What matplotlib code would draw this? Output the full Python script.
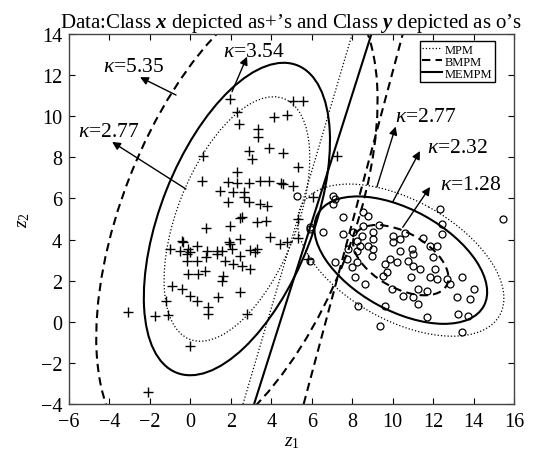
import numpy as np
import matplotlib
matplotlib.use('Agg')
import matplotlib.pyplot as plt
from matplotlib.patches import Ellipse
from matplotlib.lines import Line2D

plt.rcParams['font.family'] = ['Liberation Serif', 'DejaVu Serif']
plt.rcParams['mathtext.fontset'] = 'custom'
plt.rcParams['mathtext.rm'] = 'Liberation Serif'
plt.rcParams['mathtext.it'] = 'Liberation Serif:italic'
plt.rcParams['mathtext.bf'] = 'Liberation Serif:bold:italic'

# class x samples ('+')
x1 = [1.96, 2.3, 2.4, 3.34, 3.34, 4.13, 4.78, 0.62, 2.9, 3.05, 3.9, 4.6, 0.57, 2.3, 1.86,
      2.3, 2.9, 3.44, 3.89, 4.5, 1.46, 2.1, 2.65, 1.86, 2.65, 2.9, 3.44, 3.79, 2.45, 2.55,
      3.29, 3.74, 0.77, 1.96, 2.45, 1.9, 4.78, -0.41, -1.0, -0.5, -0.1, 0.33, 0.82, 1.3,
      1.56, 2.06, 2.95, 5.07, 5.57, 5.32, 7.25, 4.58, 5.07, 6.06, 5.32, 5.32, 5.81, 4.43,
      3.94, 3.29, 2.45, 2.45, 2.8, -0.36, 0.0, -0.17, -0.17, 0.33, 0.77, 1.3, 1.96, -0.12,
      0.38, 0.72, 1.7, 2.1, 2.55, 2.95, 3.2, 1.56, 1.6, -0.9, -0.41, 0.0, 0.33, 1.37, -1.2,
      0.87, 0.87, -3.1, -1.75, -1.1, 0.0, -2.1]
x2 = [10.84, 10.2, 9.6, 9.38, 9.0, 9.96, 10.06, 8.07, 8.3, 7.9, 8.45, 8.2, 6.85, 7.29, 6.8,
      6.75, 6.75, 6.85, 6.85, 6.75, 6.36, 6.3, 6.3, 5.83, 6.07, 5.83, 5.73, 5.64, 5.05, 5.12,
      4.86, 4.9, 4.56, 4.66, 4.03, 3.88, 3.88, 3.93, 3.54, 3.45, 3.54, 3.69, 3.45, 3.45,
      3.45, 3.54, 3.5, 10.74, 10.74, 7.53, 8.07, 6.7, 6.6, 6.07, 5.0, 4.08, 3.05, 3.78,
      4.13, 3.54, 3.2, 1.45, 0.38, 3.88, 3.4, 3.3, 2.96, 2.96, 3.15, 3.3, 3.8, 2.33,
      2.33, 2.47, 2.96, 2.81, 2.72, 2.57, 3.4, 1.99, 2.23, 1.74, 1.6, 1.26, 1.0, 1.2, 1.0,
      0.72, 0.38, 0.48, 0.29, 0.33, -1.2, -3.4]

# class y samples ('o')
y1 = [7.55, 8.53, 8.78, 6.56, 5.9, 5.91, 7.15, 7.55, 8.04, 8.24, 8.48, 8.78, 9.03, 8.98,
      7.8, 8.24, 8.4, 7.74, 8.24, 7.99, 8.14, 8.63, 8.29, 9.37, 9.62, 9.5, 9.87, 10.2, 9.62,
      10.36, 10.95, 11.0, 10.76, 11.0, 11.35, 12.0, 12.2, 12.1, 11.85, 12.2, 12.7, 12.85,
      9.97, 10.5, 11.0, 11.25, 11.7, 11.25, 11.7, 13.43, 14.0, 13.8, 13.2, 13.25, 13.7,
      13.43, 12.34, 12.44, 12.44, 11.85, 10.0, 10.36, 10.0, 9.03, 9.03, 7.15, 15.45, 8.53,
      5.27, 7.05, 7.05, 5.91, 9.3, 10.6, 11.5, 9.7, 10.9]
y2 = [5.1, 5.34, 5.15, 4.37, 4.6, 2.96, 2.9, 4.27, 4.37, 3.93, 4.18, 3.69, 3.54, 3.2,
      3.54, 3.45, 3.69, 3.05, 2.9, 2.67, 2.18, 1.84, 0.77, -0.2, 0.77, 2.23, 3.05, 2.9, 2.81,
      3.45, 3.54, 3.3, 2.96, 2.72, 2.57, 3.15, 3.69, 2.57, 2.18, 2.08, 2.08, 1.84,
      1.6, 1.26, 1.2, 1.6, 1.5, 0.87, 0.24, 2.18, 1.6, 1.1, 1.2, 0.38, 0.29,
      -0.5, 5.49, 4.76, 4.27, 3.69, 4.18, 4.03, 3.88, 4.03, 4.37, 5.97, 5.0, 4.66,
      6.12, 6.12, 5.75, 4.51, 4.7, 4.3, 4.1, 2.4, 2.2]

# fitted means / covariances of the two classes
mu_x = [2.3, 5.0]
cov_x = [[1.69, 1.40], [1.40, 4.61]]
mu_y = [10.4, 3.0]
cov_y = [[3.39, -1.23], [-1.23, 1.785]]

methods = ['MPM', 'BMPM', 'MEMPM']
styles = [':', '--', '-']
kappa_x = [2.77, 5.35, 3.54]
kappa_y = [2.77, 1.28, 2.32]
# decision boundaries: z1 where each line meets z2=-4 and z2=14
line_z2 = [-4, 14]
line_lo = [2.6, 5.6, 3.15]
line_hi = [8.0, 10.5, 8.95]

# kappa labels: text position, arrow tail (on ellipse), arrow head
lab_txt = ['5.35', '3.54', '2.77', '2.77', '2.32', '1.28']
lab_pos = [(-4.3, 12.44), (1.6, 13.17), (-5.55, 9.28), (10.1, 10.0), (11.7, 8.5), (12.34, 6.7)]
lab_tail = [(-0.71, 11.03), (2.06, 11.2), (-0.22, 6.46), (9.22, 6.56), (10.0, 5.83), (10.5, 4.6)]
lab_head = [(-2.49, 11.9), (2.8, 12.9), (-3.87, 8.75), (10.15, 9.5), (11.35, 8.31), (11.85, 6.56)]


def line_kw(ls):
    if ls == ':':
        return dict(lw=0.9, ls=':')
    if ls == '--':
        return dict(lw=1.5, ls=(0, (4, 2.5)))
    return dict(lw=1.5, ls='-')


def cov_ellipse(mu, cov, k, ls):
    vals, vecs = np.linalg.eigh(np.array(cov))
    ang = np.degrees(np.arctan2(vecs[1, 1], vecs[0, 1]))
    e = Ellipse(mu, 2 * k * np.sqrt(vals[1]), 2 * k * np.sqrt(vals[0]), angle=ang,
                fill=False, ec='k', **line_kw(ls))
    return e


fig = plt.figure(figsize=(5.33, 4.56), dpi=100)
ax = fig.add_axes([0.1295, 0.1118, 0.8349, 0.8114])

ax.plot(x1, x2, '+', color='k', ms=7, mew=1.0)
ax.plot(y1, y2, 'o', mfc='none', mec='k', ms=5, mew=0.9)

for i in range(3):
    ax.add_patch(cov_ellipse(mu_x, cov_x, kappa_x[i], styles[i]))
    ax.add_patch(cov_ellipse(mu_y, cov_y, kappa_y[i], styles[i]))
    ax.plot([line_lo[i], line_hi[i]], line_z2, color='k', **line_kw(styles[i]))

for t, p, a, b in zip(lab_txt, lab_pos, lab_tail, lab_head):
    ax.annotate('', xy=b, xytext=a,
                arrowprops=dict(arrowstyle='-|>', color='k', lw=1.0, mutation_scale=12,
                                shrinkA=0, shrinkB=0))
    ax.text(p[0], p[1], r'$\kappa$=' + t, fontsize=15.5, ha='left', va='center')

ax.set_xlim(-6, 16)
ax.set_ylim(-4, 14)
ax.set_xticks(np.arange(-6, 17, 2))
ax.set_yticks(np.arange(-4, 15, 2))
ax.tick_params(direction='in', top=True, right=True, length=4, labelsize=14.5)
ax.tick_params(axis='x', pad=6)
ax.tick_params(axis='y', pad=5)
for s in ax.spines.values():
    s.set_color('#444444')
    s.set_linewidth(1.0)

ax.set_xlabel(r'$z_1$', fontsize=14, labelpad=1)
ax.set_ylabel(r'$z_2$', fontsize=14, labelpad=6)
ax.set_title(r'Data:Class $\mathbf{x}$ depicted as+’s and Class $\mathbf{y}$ depicted as o’s',
             fontsize=15, pad=5)

handles = [Line2D([], [], color='k', **line_kw(s)) for s in styles]
leg = ax.legend(handles, methods, loc='upper right', bbox_to_anchor=(0.957, 0.981),
                fontsize=9, handlelength=1.6, handletextpad=0.2, borderpad=0.2,
                labelspacing=0.0, fancybox=False, framealpha=1, borderaxespad=0)
leg.get_frame().set_edgecolor('k')
leg.get_frame().set_linewidth(1.0)

fig.savefig('out.png', dpi=100)
